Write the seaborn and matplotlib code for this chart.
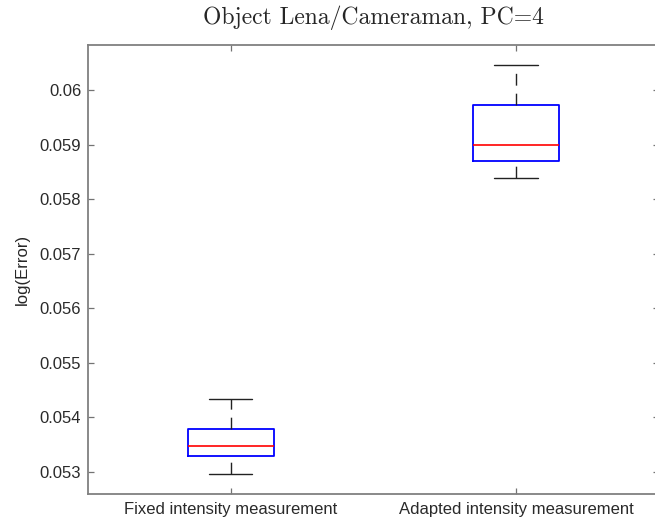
import matplotlib
matplotlib.use("Agg")
import matplotlib.pyplot as plt
from matplotlib.ticker import FormatStrFormatter
import pandas as pd
import seaborn as sns

# box statistics (per group)
groups = ["Fixed intensity measurement", "Adapted intensity measurement"]
whisker_low = [0.05296, 0.05839]
q1 = [0.05328, 0.05870]
median = [0.05347, 0.05899]
q3 = [0.05378, 0.05972]
whisker_high = [0.05433, 0.06046]

yticks = [0.053, 0.054, 0.055, 0.056, 0.057, 0.058, 0.059, 0.060]

# five points per group reproduce the five-number summary exactly
rows = []
for i, g in enumerate(groups):
    for v in (whisker_low[i], q1[i], median[i], q3[i], whisker_high[i]):
        rows.append({"method": g, "err": v})
df = pd.DataFrame(rows)

sns.set_style("ticks")
plt.rcParams["font.family"] = ["Liberation Sans", "DejaVu Sans"]

fig = plt.figure(figsize=(6.55, 5.27), dpi=100)
ax = fig.add_axes([0.1348, 0.0626, 0.8707, 0.8526])

sns.boxplot(
    data=df, x="method", y="err", order=groups, ax=ax,
    whis=(0, 100), width=0.302, fill=False, showfliers=False,
    boxprops=dict(color="#0000ff", linewidth=1.3),
    medianprops=dict(color="#ff0000", linewidth=1.2),
    whiskerprops=dict(color="#222222", linewidth=1.0, linestyle=(0, (8.5, 5.8))),
    capprops=dict(color="#222222", linewidth=1.0),
)

# draw whiskers bottom-up, like the reference
for ln in ax.lines:
    if ln.get_linestyle() not in ("-", "solid"):
        y = list(ln.get_ydata())
        if y[0] > y[1]:
            ln.set_ydata(y[::-1])
            ln.set_xdata(list(ln.get_xdata())[::-1])

ax.set_xlim(-0.5, 1.5)
ax.set_ylim(0.052591, 0.060831)
ax.set_yticks(yticks)
ax.yaxis.set_major_formatter(FormatStrFormatter("%g"))

ax.tick_params(direction="in", length=4, width=0.9, colors="0.45",
               labelcolor="#2a2a2a", labelsize=12, top=True, right=True)
ax.tick_params(axis="x", pad=5.5)
ax.tick_params(axis="y", pad=5)
for s in ax.spines.values():
    s.set_color("0.5")
    s.set_linewidth(1.3)
    s.set_visible(True)

ax.set_xlabel("")
ax.set_ylabel("log(Error)", fontsize=12, color="#262626", labelpad=7)
ax.set_title("Object Lena/Cameraman, PC=4", family="cmr10", fontsize=17,
             color="#262626", pad=15)

fig.savefig("out.png", dpi=100)
